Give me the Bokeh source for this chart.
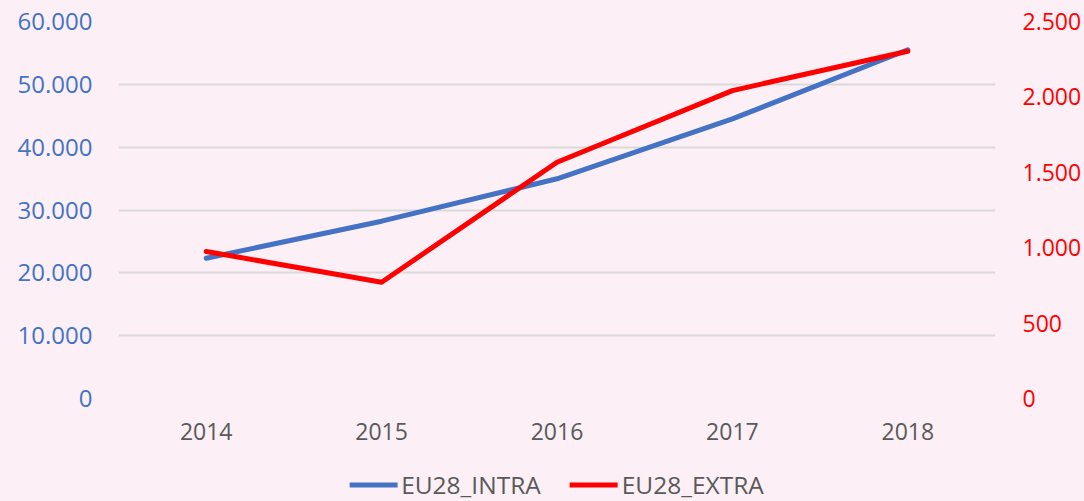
from bokeh.plotting import figure
from bokeh.layouts import column
from bokeh.models import Range1d, LinearAxis, FixedTicker, CustomJSTickFormatter, Legend, LegendItem
from bokeh.embed import file_html
from bokeh.resources import INLINE

years = ["2014", "2015", "2016", "2017", "2018"]
eu28_intra = [22330, 28220, 34970, 44500, 55500]
eu28_extra = [975, 771, 1567, 2042, 2303]
left_ticks = [0, 10000, 20000, 30000, 40000, 50000, 60000]
right_ticks = [0, 500, 1000, 1500, 2000, 2500]
series_names = ["EU28_INTRA", "EU28_EXTRA"]

BG = "#FCF0F6"
FONT = "Open Sans"
BLUE = "#4472C4"
RED = "#FF0000"
LW = 5

p = figure(width=1084, height=455, x_range=years, y_range=Range1d(0, 60000),
           output_backend="svg", toolbar_location=None,
           min_border_left=118, min_border_right=88, min_border_top=21, min_border_bottom=57,
           styles={"background-color": BG})
p.background_fill_color = BG
p.border_fill_color = BG
p.outline_line_color = None

p.extra_y_ranges = {"right": Range1d(0, 2500)}

fmt_code = "return Math.round(tick).toString().replace(/\\B(?=(\\d{3})+(?!\\d))/g, '.');"

def style_axis(ax, color, size, standoff):
    ax.major_label_text_color = color
    ax.major_label_text_font = FONT
    ax.major_label_text_font_size = size
    ax.major_label_standoff = standoff
    ax.axis_line_color = None
    ax.major_tick_line_color = None
    ax.minor_tick_line_color = None
    ax.major_tick_out = 0
    ax.major_tick_in = 0
    ax.minor_tick_out = 0
    ax.minor_tick_in = 0

ya = p.yaxis[0]
ya.ticker = FixedTicker(ticks=left_ticks)
ya.formatter = CustomJSTickFormatter(code=fmt_code)
style_axis(ya, BLUE, "24px", 26)

ra = LinearAxis(y_range_name="right", ticker=FixedTicker(ticks=right_ticks),
                formatter=CustomJSTickFormatter(code=fmt_code))
style_axis(ra, RED, "23px", 27)
p.add_layout(ra, "right")

xa = p.xaxis[0]
style_axis(xa, "#595959", "23px", 24)

p.xgrid.grid_line_color = None
p.ygrid.grid_line_color = "#D9D9D9"
p.ygrid.grid_line_width = 2
p.ygrid.ticker = FixedTicker(ticks=left_ticks)

p.line(years, eu28_intra, line_color=BLUE, line_width=LW, line_cap="round", line_join="round")
p.line(years, eu28_extra, line_color=RED, line_width=LW, line_cap="round", line_join="round",
       y_range_name="right")

# legend strip below the chart (series drawn far outside its visible range; only legend samples show)
lg = figure(width=1084, height=46, output_backend="svg", toolbar_location=None,
            x_axis_location=None, y_axis_location=None,
            x_range=Range1d(-1, 0), y_range=Range1d(-1, 0),
            min_border_left=10, min_border_right=0, min_border_top=14, min_border_bottom=2,
            styles={"background-color": BG})
lg.background_fill_color = BG
lg.border_fill_color = BG
lg.outline_line_color = None
lg.grid.visible = False
idx = list(range(1, len(years) + 1))
l1 = lg.line(idx, eu28_intra, line_color=BLUE, line_width=LW, line_cap="round")
l2 = lg.line(idx, eu28_extra, line_color=RED, line_width=LW, line_cap="round")

legend = Legend(items=[LegendItem(label=series_names[0], renderers=[l1]),
                       LegendItem(label=series_names[1], renderers=[l2])],
                orientation="horizontal", location="center")
legend.background_fill_alpha = 0
legend.border_line_color = None
legend.label_text_color = "#595959"
legend.label_text_font = FONT
legend.label_text_font_size = "24.5px"
legend.glyph_width = 48
legend.label_standoff = 4
legend.spacing = 29
legend.padding = 0
legend.margin = 0
lg.add_layout(legend, "center")

layout = column(p, lg, spacing=0, styles={"background-color": BG})
open("out.html", "w").write(file_html(layout, INLINE))
